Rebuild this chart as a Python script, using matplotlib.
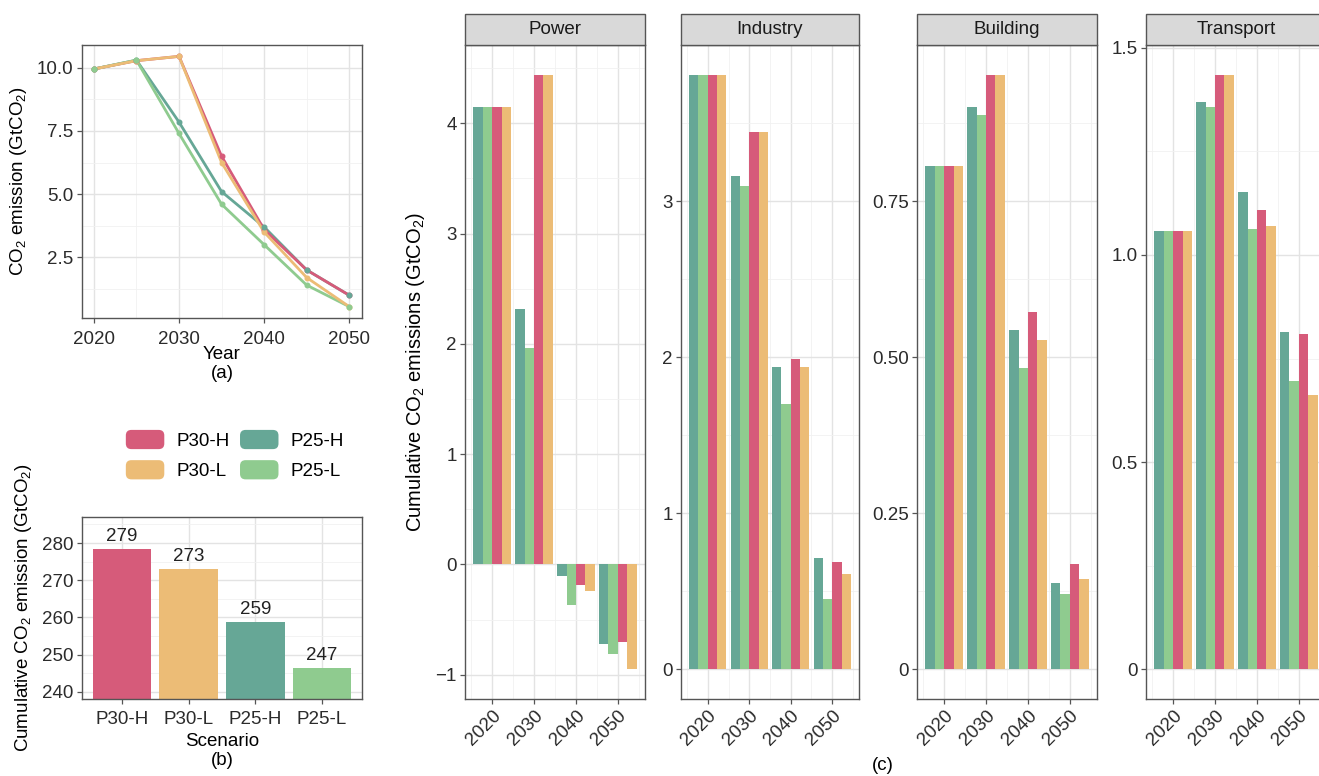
import matplotlib
matplotlib.use("Agg")
import matplotlib.pyplot as plt
from matplotlib.patches import Rectangle, FancyBboxPatch, Patch
from matplotlib.legend_handler import HandlerPatch
import numpy as np

plt.rcParams['font.family'] = ['Liberation Sans', 'DejaVu Sans']
plt.rcParams['mathtext.fontset'] = 'custom'
plt.rcParams['mathtext.rm'] = 'Liberation Sans'
plt.rcParams['mathtext.it'] = 'Liberation Sans'
plt.rcParams['mathtext.default'] = 'regular'

# ---------------- data ----------------
scenarios = ['P30-H', 'P30-L', 'P25-H', 'P25-L']
colors = {'P30-H': '#D65B7A', 'P30-L': '#ECBC76', 'P25-H': '#66A796', 'P25-L': '#8FCB8F'}

years_a = [2020, 2025, 2030, 2035, 2040, 2045, 2050]
emis_p30h = [9.95, 10.28, 10.45, 6.50, 3.60, 2.00, 1.00]
emis_p30l = [9.95, 10.28, 10.45, 6.25, 3.50, 1.70, 0.55]
emis_p25h = [9.95, 10.30, 7.85, 5.10, 3.70, 2.00, 1.00]
emis_p25l = [9.95, 10.30, 7.40, 4.60, 3.00, 1.40, 0.55]

cum_values = [278.4, 272.9, 258.7, 246.5]
cum_labels = ['279', '273', '259', '247']

sectors = ['Power', 'Industry', 'Building', 'Transport']
years_c = [2020, 2030, 2040, 2050]
bar_order = ['P25-H', 'P25-L', 'P30-H', 'P30-L']
sector_data = {
    'Power': {
        'P25-H': [4.15, 2.32, -0.10, -0.72],
        'P25-L': [4.15, 1.96, -0.37, -0.81],
        'P30-H': [4.15, 4.44, -0.19, -0.70],
        'P30-L': [4.15, 4.44, -0.24, -0.95],
    },
    'Industry': {
        'P25-H': [3.81, 3.16, 1.94, 0.71],
        'P25-L': [3.81, 3.10, 1.70, 0.45],
        'P30-H': [3.81, 3.44, 1.99, 0.69],
        'P30-L': [3.81, 3.44, 1.94, 0.61],
    },
    'Building': {
        'P25-H': [0.806, 0.901, 0.544, 0.138],
        'P25-L': [0.806, 0.889, 0.483, 0.121],
        'P30-H': [0.806, 0.953, 0.572, 0.168],
        'P30-L': [0.806, 0.953, 0.527, 0.145],
    },
    'Transport': {
        'P25-H': [1.057, 1.368, 1.152, 0.813],
        'P25-L': [1.057, 1.357, 1.062, 0.696],
        'P30-H': [1.057, 1.435, 1.108, 0.810],
        'P30-L': [1.057, 1.435, 1.071, 0.663],
    },
}
sector_ticks = {
    'Power': ([-1, 0, 1, 2, 3, 4], ['\u22121', '0', '1', '2', '3', '4']),
    'Industry': ([0, 1, 2, 3], ['0', '1', '2', '3']),
    'Building': ([0, 0.25, 0.5, 0.75], ['0', '0.25', '0.50', '0.75']),
    'Transport': ([0, 0.5, 1.0, 1.5], ['0', '0.5', '1.0', '1.5']),
}

# ---------------- style helpers ----------------
W, H = 1319, 776
fig = plt.figure(figsize=(W / 100, H / 100), dpi=100)

GRID_MAJ = '#E3E3E3'
GRID_MIN = '#F1F1F1'
BORDER = '#555555'
TICKC = '#2B2B2B'


def px_axes(l, r, t, b):
    return fig.add_axes([l / W, 1 - b / H, (r - l) / W, (b - t) / H])


def style(ax, fs=12):
    ax.set_facecolor('white')
    for s in ax.spines.values():
        s.set_color(BORDER)
        s.set_linewidth(1.0)
    ax.grid(True, which='major', color=GRID_MAJ, linewidth=1.0)
    ax.grid(True, which='minor', color=GRID_MIN, linewidth=0.6)
    ax.set_axisbelow(True)
    ax.tick_params(which='major', length=3.5, width=0.9, color=BORDER,
                   labelsize=fs, labelcolor=TICKC, pad=2.5)
    ax.tick_params(which='minor', length=0)


# ---------------- panel (a) ----------------
ax_a = px_axes(82, 362, 45, 318)
style(ax_a, 13.5)
ax_a.tick_params(axis='x', which='major', pad=5.5)
series_a = {'P30-H': emis_p30h, 'P30-L': emis_p30l, 'P25-H': emis_p25h, 'P25-L': emis_p25l}
for sc in ['P25-H', 'P30-H', 'P25-L', 'P30-L']:
    ax_a.plot(years_a, series_a[sc], color=colors[sc], lw=2.0, solid_capstyle='round', zorder=2)
for sc in ['P30-H', 'P30-L', 'P25-H', 'P25-L']:
    ax_a.plot(years_a, series_a[sc], 'o', color=colors[sc], ms=3.3, zorder=3)
ax_a.set_xlim(2018.6, 2051.5)
ax_a.set_ylim(0.1, 10.9)
ax_a.set_xticks([2020, 2030, 2040, 2050])
ax_a.set_xticks([2025, 2035, 2045], minor=True)
ax_a.set_yticks([2.5, 5.0, 7.5, 10.0])
ax_a.set_yticklabels(['2.5', '5.0', '7.5', '10.0'])
ax_a.set_yticks([1.25, 3.75, 6.25, 8.75], minor=True)
ax_a.set_xlabel('Year\n(a)', fontsize=13.5, labelpad=-1, linespacing=1.15)
ax_a.set_ylabel('CO$_2$ emission (GtCO$_2$)', fontsize=13.5, labelpad=6)

# ---------------- panel (b) ----------------
ax_b = px_axes(82, 362, 517, 699)
style(ax_b, 13.5)
ax_b.tick_params(axis='x', which='major', pad=4.8)
xb = np.arange(len(scenarios))
ax_b.bar(xb, cum_values, width=0.88, bottom=0,
         color=[colors[s] for s in scenarios], zorder=2)
ax_b.set_ylim(238.1, 287)
for x, v, lab in zip(xb, cum_values, cum_labels):
    ax_b.annotate(lab, (x, v), xytext=(0, 3), textcoords='offset points',
                  ha='center', va='bottom', fontsize=13.5, color='#222222')
ax_b.set_xlim(-0.6, 3.6)
ax_b.set_xticks(xb)
ax_b.set_xticklabels(scenarios)
ax_b.set_yticks([240, 250, 260, 270, 280])
ax_b.set_yticks([245, 255, 265, 275, 285], minor=True)
ax_b.set_xlabel('Scenario\n(b)', fontsize=13.5, labelpad=4, linespacing=1.15)
ax_b.set_ylabel('Cumulative CO$_2$ emission (GtCO$_2$)', fontsize=13.5, labelpad=6)


class RoundHandler(HandlerPatch):
    def create_artists(self, legend, orig_handle, xdescent, ydescent, width, height, fontsize, trans):
        p = FancyBboxPatch((-xdescent + 1, -ydescent), width - 2, height,
                           boxstyle='round,pad=0,rounding_size=4',
                           facecolor=orig_handle.get_facecolor(), edgecolor='none',
                           transform=trans)
        return [p]


handles = [Patch(facecolor=colors[s], label=s) for s in scenarios]
leg = fig.legend(handles=handles, ncol=2, loc='center', bbox_to_anchor=(234 / W, 1 - 455 / H),
                 frameon=False, fontsize=13.5, handler_map={Patch: RoundHandler()},
                 handlelength=2.2, handleheight=1.2, handletextpad=0.55,
                 columnspacing=0.5, labelspacing=0.55)

# ---------------- panel (c) ----------------
facet_lr = [(465, 645), (681, 859), (917, 1097), (1146, 1326)]
bw = 9.0 / 4
for k, sec in enumerate(sectors):
    l, r = facet_lr[k]
    ax = px_axes(l, r, 45, 699)
    style(ax, 13.5)
    d = sector_data[sec]
    allv = [v for s in bar_order for v in d[s]]
    for i, sc in enumerate(bar_order):
        xs = [y - 4.5 + bw * (i + 0.5) for y in years_c]
        ax.bar(xs, d[sc], width=bw, color=colors[sc], zorder=2, linewidth=0)
    lo, hi = min(0, min(allv)), max(0, max(allv))
    pad = 0.05 * (hi - lo)
    ax.set_xlim(2013.55, 2056.45)
    ax.set_xticks(years_c)
    ax.set_xticks([2015, 2025, 2035, 2045, 2055], minor=True)
    ax.set_xticklabels([str(y) for y in years_c], rotation=45, ha='right',
                       rotation_mode='anchor', fontsize=13.5)
    tks, tls = sector_ticks[sec]
    ax.set_yticks(tks)
    ax.set_yticklabels(tls)
    step = tks[1] - tks[0]
    mins = [tks[0] - step / 2] + [(tks[j] + tks[j + 1]) / 2 for j in range(len(tks) - 1)] \
        + [tks[-1] + step / 2]
    ax.set_yticks(mins, minor=True)
    ax.set_ylim(lo - pad, hi + pad)
    # strip
    sh = 31 / 654
    ax.add_patch(Rectangle((0, 1), 1, sh, transform=ax.transAxes, facecolor='#D9D9D9',
                           edgecolor=BORDER, linewidth=1.0, clip_on=False, zorder=5))
    ax.text(0.5, 1 + sh / 2, sec, transform=ax.transAxes, ha='center', va='center',
            fontsize=13.5, color='#1A1A1A', zorder=6)
    if k == 0:
        ax.set_ylabel('Cumulative CO$_2$ emissions (GtCO$_2$)', fontsize=14.5, labelpad=6)

fig.text(883 / W, 1 - 766 / H, '(c)', ha='center', va='center', fontsize=13.5)

fig.savefig('out.png', dpi=100)
